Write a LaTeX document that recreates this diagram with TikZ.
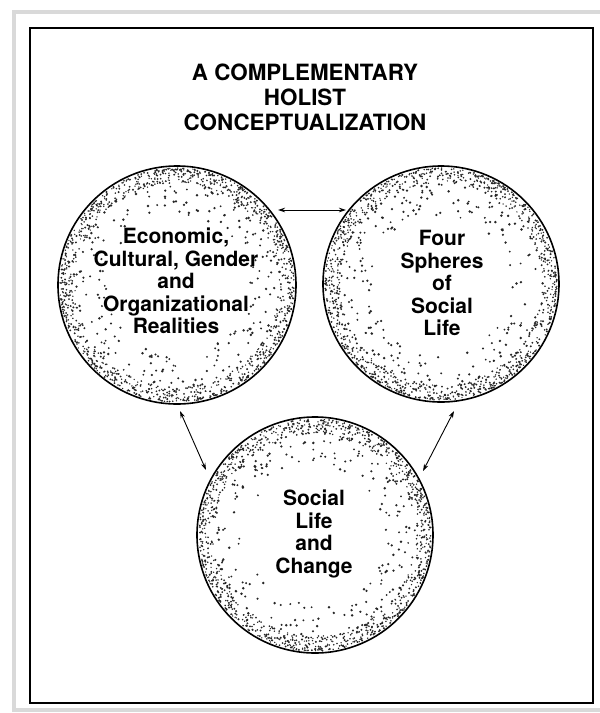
\documentclass[tikz,border=0pt]{standalone}
\usepackage{fontspec}
\setmainfont{TeX Gyre Heros}
\usetikzlibrary{arrows.meta}

% stippled shading: a dense band of fine dots along the rim,
% then a looser scatter of coarser dots a little further in
\newcommand\stipplesphere[3]{%
  \foreach \k in {1,...,1150}{%
    \pgfmathsetmacro\ang{360*rnd}%
    \pgfmathsetmacro\rad{#3-1-15*rnd^1.6}%
    \pgfmathsetmacro\dotr{0.7+0.4*rnd}%
    \fill[black!85] ({#1+\rad*cos(\ang)},{#2+\rad*sin(\ang)}) circle[radius=\dotr pt];
  }%
  \foreach \k in {1,...,230}{%
    \pgfmathsetmacro\ang{360*rnd}%
    \pgfmathsetmacro\rad{#3-14-34*rnd^1.3}%
    \pgfmathsetmacro\dotr{0.95+0.45*rnd}%
    \fill[black!85] ({#1+\rad*cos(\ang)},{#2+\rad*sin(\ang)}) circle[radius=\dotr pt];
  }%
}

\begin{document}
\begin{tikzpicture}[x=1pt,y=-1pt,
  sphere/.style={circle, draw=black, line width=1.6pt, minimum size=#1, inner sep=0pt},
  spheretext/.style={align=center, font=\bfseries\fontsize{21}{22.5}\selectfont, inner sep=0pt},
  titletext/.style={align=center, font=\bfseries\fontsize{22.4}{25}\selectfont, inner sep=0pt},
  link/.style={line width=0.9pt, {Stealth[length=7pt,width=4.5pt]}-{Stealth[length=7pt,width=4.5pt]}}
]
\pgfmathsetseed{4711}
\useasboundingbox (0,0) rectangle (600,713);

% mount and frame
\draw[gray!30, line width=4.5pt] (14,12) rectangle (640,710);
\draw[black, line width=1.6pt] (30,28) rectangle (593,703);

% title
\node[titletext] (title) at (305,97) {A COMPLEMENTARY\\HOLIST\\CONCEPTUALIZATION};

% the three spheres
\stipplesphere{177}{285}{118}
\stipplesphere{441}{284}{117}
\stipplesphere{315}{535}{117}
\node[sphere=238pt] (cL) at (177,285) {};
\node[sphere=236pt] (cR) at (441,284) {};
\node[sphere=236pt] (cB) at (315,535) {};

\node[spheretext] (tL) at (176,281) {Economic,\\Cultural, Gender\\and\\Organizational\\Realities};
\node[spheretext] (tR) at (442,283) {Four\\Spheres\\of\\Social\\Life};
\node[spheretext] (tB) at (314,534) {Social\\Life\\and\\Change};

% ends of the two-way arrows, just outside the sphere rims
\coordinate (aLR1) at (278,210);
\coordinate (aLR2) at (346,210);
\coordinate (aLB1) at (180,411);
\coordinate (aLB2) at (206,470);
\coordinate (aRB1) at (454,411);
\coordinate (aRB2) at (423,471);

\draw[link] (aLR1) -- (aLR2);
\draw[link] (aLB1) -- (aLB2);
\draw[link] (aRB1) -- (aRB2);
\end{tikzpicture}
\end{document}
